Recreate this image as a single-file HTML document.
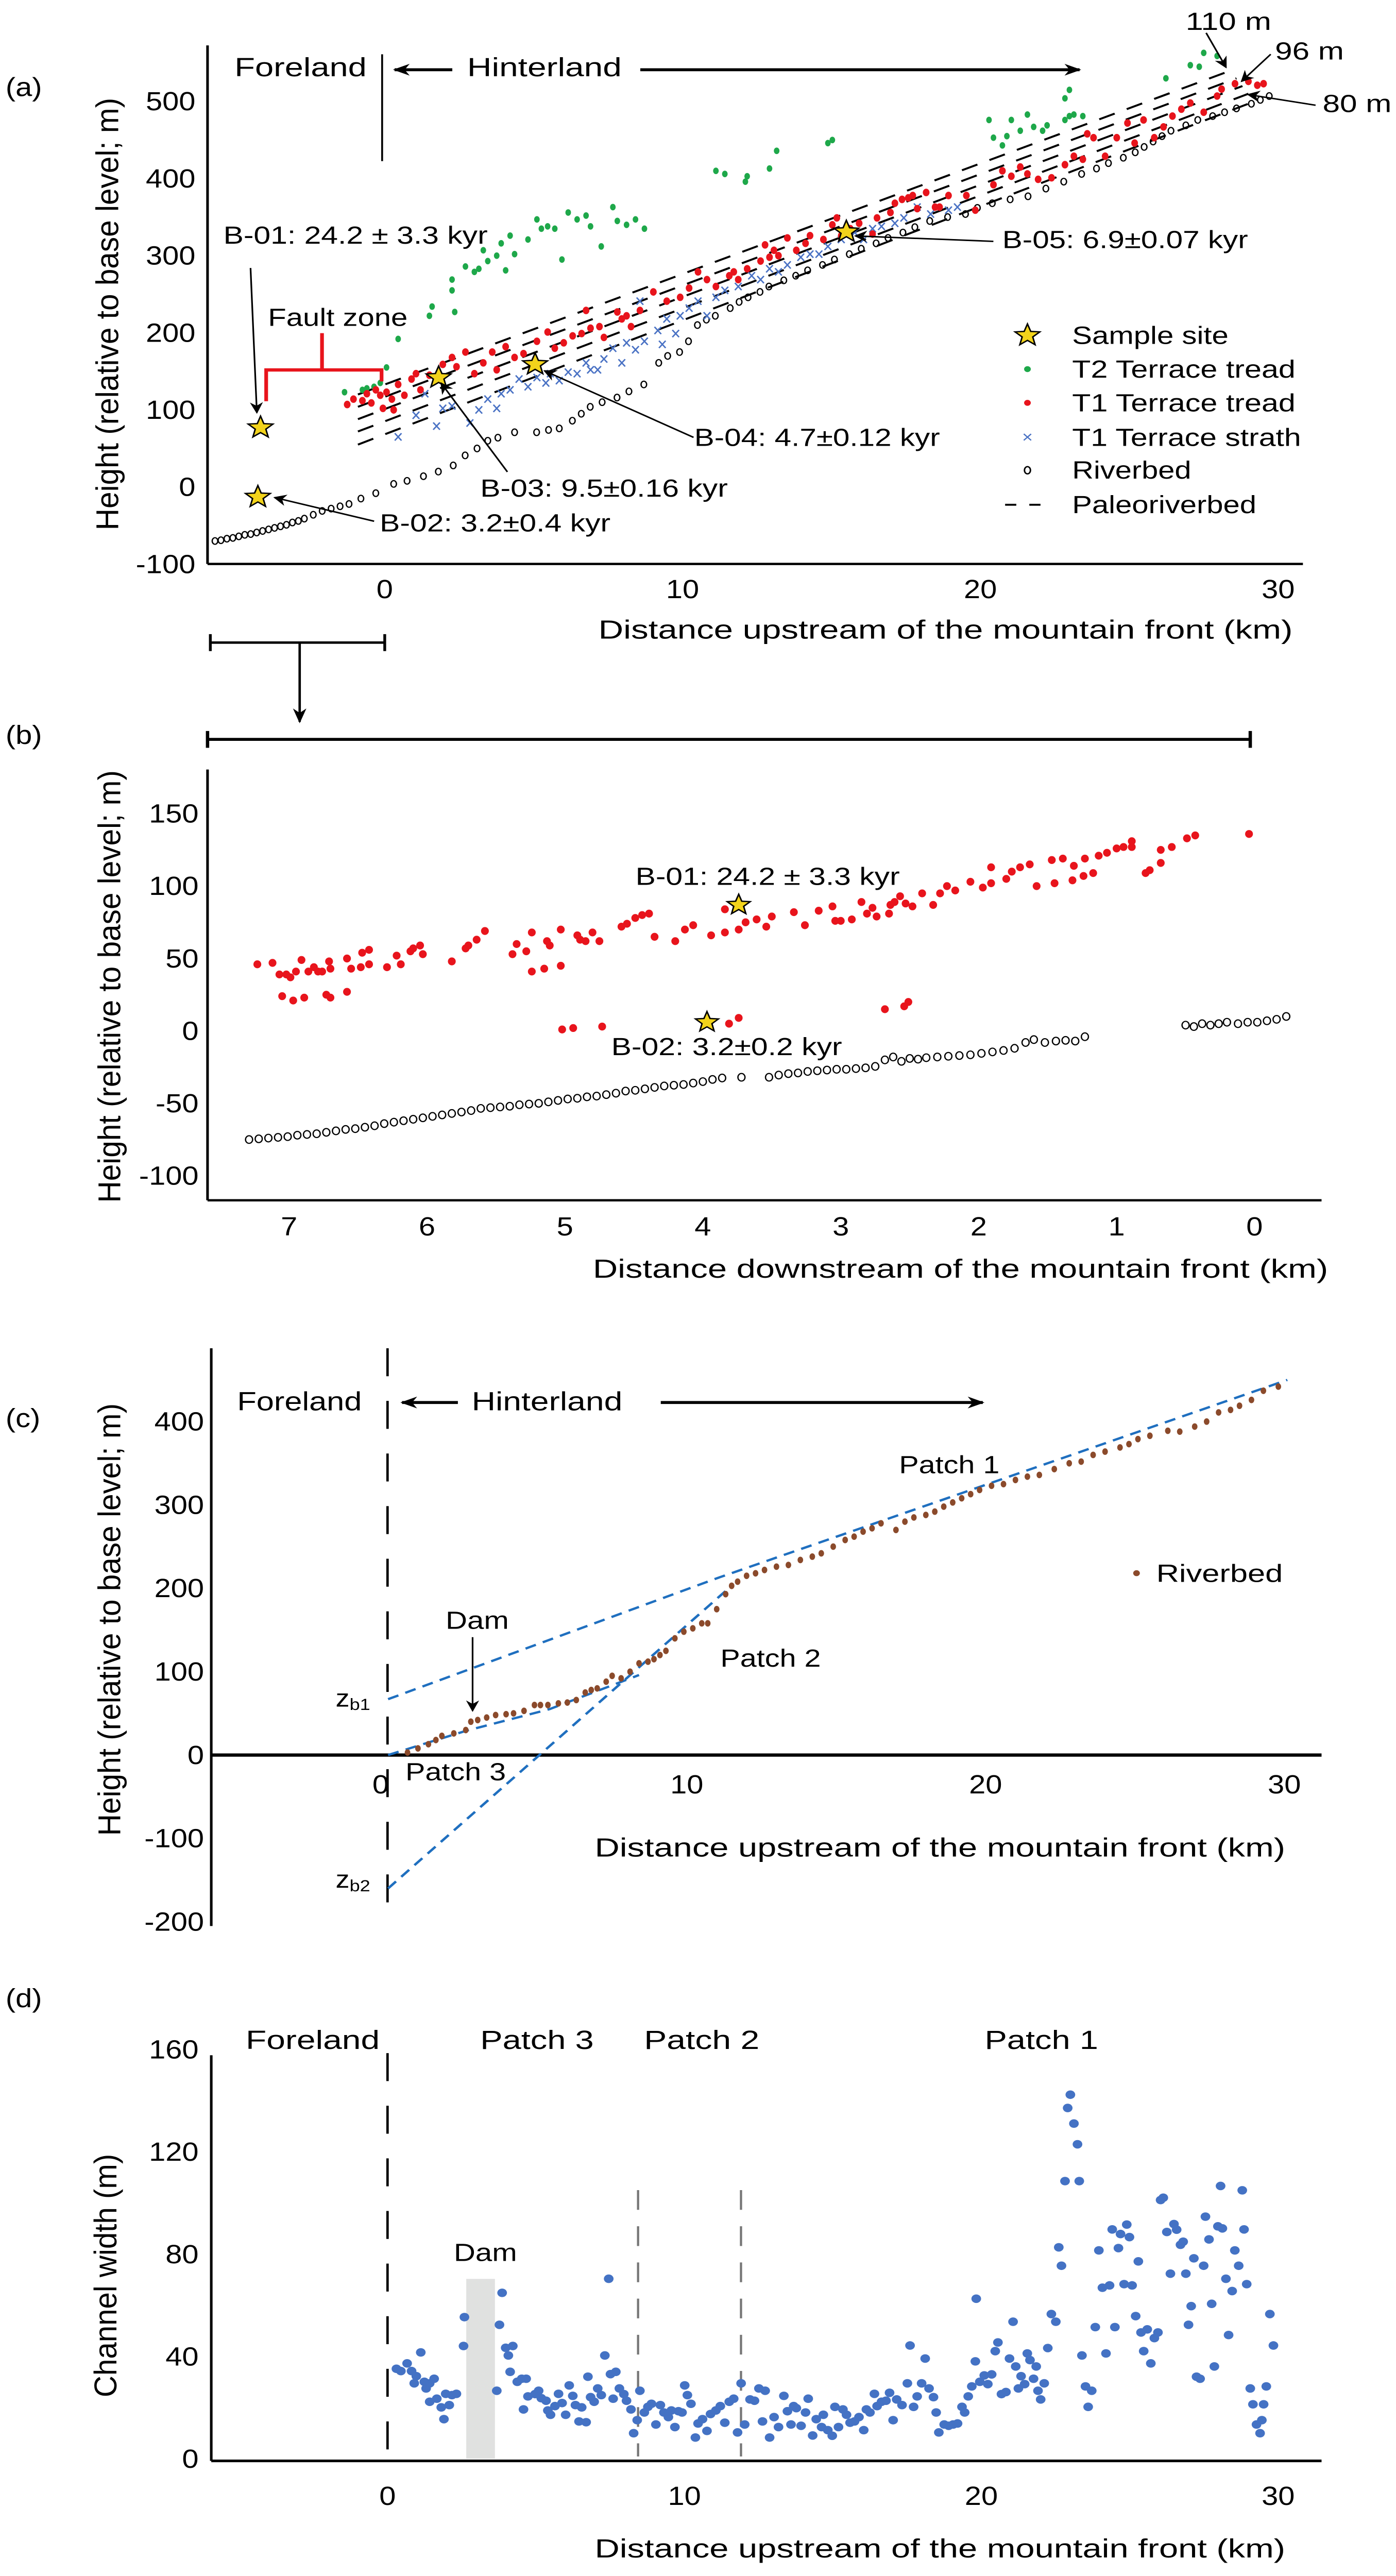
<!DOCTYPE html>
<html><head><meta charset="utf-8"><title>River profile figure</title>
<style>
html,body{margin:0;padding:0;background:#fff;width:100%;height:100%;overflow:hidden;}
#fig{position:fixed;left:0;top:0;width:100vw;height:100vh;display:block;overflow:hidden;}
text{font-family:"Liberation Sans",sans-serif;fill:#000;}
</style></head>
<body>
<svg id="fig" xmlns="http://www.w3.org/2000/svg" width="100%" height="100%" viewBox="0 0 750 1566.7" preserveAspectRatio="none">
<defs>
<marker id="ah" viewBox="0 0 10 10" refX="9" refY="5" markerWidth="7" markerHeight="7" orient="auto-start-reverse" markerUnits="userSpaceOnUse"><path d="M0,0 L10,5 L0,10 L3,5 z" fill="#000"/></marker>
<marker id="ahs" viewBox="0 0 10 10" refX="9" refY="5" markerWidth="9" markerHeight="9" orient="auto" markerUnits="userSpaceOnUse"><path d="M0,1 L10,5 L0,9 L3,5 z" fill="#000"/></marker>
</defs>
<rect x="0" y="0" width="750" height="1566.7" fill="#fff"/>

<g>
<text x="3" y="53" font-size="16" dominant-baseline="central">(a)</text>
<line x1="111.5" y1="27.6" x2="111.5" y2="343" stroke="#000" stroke-width="1.4"/>
<line x1="111.5" y1="343" x2="700" y2="343" stroke="#000" stroke-width="1.4"/>
<text transform="translate(58,191) rotate(-90)" font-size="17" text-anchor="middle" dominant-baseline="central" textLength="263" lengthAdjust="spacingAndGlyphs">Height (relative to base level; m)</text>
<text x="508" y="383" font-size="16" text-anchor="middle" dominant-baseline="central" textLength="373" lengthAdjust="spacingAndGlyphs">Distance upstream of the mountain front (km)</text>
<text x="126" y="41" font-size="16" dominant-baseline="central" textLength="71" lengthAdjust="spacingAndGlyphs">Foreland</text>
<line x1="205.3" y1="33" x2="205.3" y2="98" stroke="#000" stroke-width="1"/>
<line x1="243" y1="42.4" x2="212" y2="42.4" stroke="#000" stroke-width="1.8" marker-end="url(#ahs)"/>
<text x="251" y="41" font-size="16" dominant-baseline="central" textLength="83" lengthAdjust="spacingAndGlyphs">Hinterland</text>
<line x1="344" y1="42.4" x2="580" y2="42.4" stroke="#000" stroke-width="1.8" marker-end="url(#ahs)"/>
<g id="a-marks"></g>
<text x="120" y="143" font-size="15" dominant-baseline="central" textLength="142" lengthAdjust="spacingAndGlyphs">B-01: 24.2 ± 3.3 kyr</text>
<line x1="134.6" y1="163" x2="138" y2="251" stroke="#000" stroke-width="0.9" marker-end="url(#ah)"/>
<text x="144" y="193" font-size="15" dominant-baseline="central" textLength="75" lengthAdjust="spacingAndGlyphs">Fault zone</text>
<path d="M173,202.6 V225 M143,244 V225 H205 V232" fill="none" stroke="#e8141c" stroke-width="2"/>
<line x1="201" y1="317" x2="147.5" y2="302.6" stroke="#000" stroke-width="0.9" marker-end="url(#ah)"/>
<text x="204" y="318" font-size="15" dominant-baseline="central" textLength="124" lengthAdjust="spacingAndGlyphs">B-02: 3.2±0.4 kyr</text>
<line x1="272.6" y1="287" x2="237" y2="233" stroke="#000" stroke-width="0.9" marker-end="url(#ah)"/>
<text x="258" y="297" font-size="15" dominant-baseline="central" textLength="133" lengthAdjust="spacingAndGlyphs">B-03: 9.5±0.16 kyr</text>
<line x1="372.6" y1="266" x2="292.5" y2="225.5" stroke="#000" stroke-width="0.9" marker-end="url(#ah)"/>
<text x="373" y="266" font-size="15" dominant-baseline="central" textLength="132" lengthAdjust="spacingAndGlyphs">B-04: 4.7±0.12 kyr</text>
<line x1="533.7" y1="146.8" x2="459.5" y2="143.5" stroke="#000" stroke-width="0.9" marker-end="url(#ah)"/>
<text x="538.5" y="145.7" font-size="15" dominant-baseline="central" textLength="132" lengthAdjust="spacingAndGlyphs">B-05: 6.9±0.07 kyr</text>
<text x="637" y="13" font-size="15" dominant-baseline="central" textLength="46" lengthAdjust="spacingAndGlyphs">110 m</text>
<line x1="648" y1="20" x2="658.7" y2="41" stroke="#000" stroke-width="0.9" marker-end="url(#ah)"/>
<text x="685" y="31" font-size="15" dominant-baseline="central" textLength="37" lengthAdjust="spacingAndGlyphs">96 m</text>
<line x1="682.7" y1="33" x2="667" y2="49.5" stroke="#000" stroke-width="0.9" marker-end="url(#ah)"/>
<text x="710.6" y="63" font-size="15" dominant-baseline="central" textLength="37" lengthAdjust="spacingAndGlyphs">80 m</text>
<line x1="706.8" y1="64" x2="670.5" y2="57.5" stroke="#000" stroke-width="0.9" marker-end="url(#ah)"/>
<g id="a-legend">
<text x="576" y="204" font-size="15" dominant-baseline="central" textLength="84" lengthAdjust="spacingAndGlyphs">Sample site</text>
<circle cx="552" cy="224.5" r="1.8" fill="#1ea84a"/>
<text x="576" y="224.5" font-size="15" dominant-baseline="central" textLength="120" lengthAdjust="spacingAndGlyphs">T2 Terrace tread</text>
<circle cx="552" cy="245" r="1.8" fill="#e8141c"/>
<text x="576" y="245" font-size="15" dominant-baseline="central" textLength="120" lengthAdjust="spacingAndGlyphs">T1 Terrace tread</text>
<text x="552" y="266" font-size="10" text-anchor="middle" dominant-baseline="central" style="fill:#4a72c4">×</text>
<text x="576" y="266" font-size="15" dominant-baseline="central" textLength="123" lengthAdjust="spacingAndGlyphs">T1 Terrace strath</text>
<ellipse cx="552" cy="286" rx="1.6" ry="2.2" fill="none" stroke="#000" stroke-width="0.8"/>
<text x="576" y="286" font-size="15" dominant-baseline="central" textLength="64" lengthAdjust="spacingAndGlyphs">Riverbed</text>
<line x1="540" y1="307" x2="565" y2="307" stroke="#000" stroke-width="1.2" stroke-dasharray="6 7"/>
<text x="576" y="307" font-size="15" dominant-baseline="central" textLength="99" lengthAdjust="spacingAndGlyphs">Paleoriverbed</text>
</g>
</g>

<path d="M113,390.8 H206.7 M113,385.7 V396 M206.7,385.7 V396" stroke="#000" stroke-width="1.5" fill="none"/>
<line x1="161" y1="390.8" x2="161" y2="439" stroke="#000" stroke-width="1.3" marker-end="url(#ahs)"/>
<path d="M111.5,449.7 H671.7 M111.5,444.6 V454.8 M671.7,444.6 V454.8" stroke="#000" stroke-width="1.8" fill="none"/>

<g>
<text x="3" y="447" font-size="16" dominant-baseline="central">(b)</text>
<line x1="111.5" y1="468" x2="111.5" y2="730" stroke="#000" stroke-width="1.4"/>
<line x1="111.5" y1="730" x2="710" y2="730" stroke="#000" stroke-width="1.4"/>
<text transform="translate(59,600) rotate(-90)" font-size="17" text-anchor="middle" dominant-baseline="central" textLength="263" lengthAdjust="spacingAndGlyphs">Height (relative to base level; m)</text>
<text x="516" y="771.7" font-size="16" text-anchor="middle" dominant-baseline="central" textLength="395" lengthAdjust="spacingAndGlyphs">Distance downstream of the mountain front (km)</text>
<g id="b-marks"></g>
<text x="341.4" y="533" font-size="15" dominant-baseline="central" textLength="142" lengthAdjust="spacingAndGlyphs">B-01: 24.2 ± 3.3 kyr</text>
<text x="328.4" y="636.6" font-size="15" dominant-baseline="central" textLength="124" lengthAdjust="spacingAndGlyphs">B-02: 3.2±0.2 kyr</text>
</g>

<g>
<text x="3" y="862.6" font-size="16" dominant-baseline="central">(c)</text>
<line x1="113.5" y1="820" x2="113.5" y2="1171.4" stroke="#000" stroke-width="1.4"/>
<line x1="113.5" y1="1067.4" x2="710" y2="1067.4" stroke="#000" stroke-width="2"/>
<line x1="208.2" y1="820" x2="208.2" y2="1171" stroke="#000" stroke-width="1.3" stroke-dasharray="17 15"/>
<text transform="translate(59,985) rotate(-90)" font-size="17" text-anchor="middle" dominant-baseline="central" textLength="263" lengthAdjust="spacingAndGlyphs">Height (relative to base level; m)</text>
<text x="505" y="1123.7" font-size="16" text-anchor="middle" dominant-baseline="central" textLength="371" lengthAdjust="spacingAndGlyphs">Distance upstream of the mountain front (km)</text>
<text x="127.4" y="852.4" font-size="16" dominant-baseline="central" textLength="67" lengthAdjust="spacingAndGlyphs">Foreland</text>
<line x1="246" y1="853" x2="216" y2="853" stroke="#000" stroke-width="1.8" marker-end="url(#ahs)"/>
<text x="253.4" y="852.4" font-size="16" dominant-baseline="central" textLength="81" lengthAdjust="spacingAndGlyphs">Hinterland</text>
<line x1="355" y1="853" x2="528" y2="853" stroke="#000" stroke-width="1.8" marker-end="url(#ahs)"/>
<g id="c-marks"></g>
<text x="483" y="890.8" font-size="15" dominant-baseline="central" textLength="54" lengthAdjust="spacingAndGlyphs">Patch 1</text>
<text x="387" y="1008.5" font-size="15" dominant-baseline="central" textLength="54" lengthAdjust="spacingAndGlyphs">Patch 2</text>
<text x="217.8" y="1077.6" font-size="15" dominant-baseline="central" textLength="54" lengthAdjust="spacingAndGlyphs">Patch 3</text>
<text x="239.4" y="985.5" font-size="15" dominant-baseline="central" textLength="34" lengthAdjust="spacingAndGlyphs">Dam</text>
<line x1="253.9" y1="995.7" x2="253.9" y2="1040.5" stroke="#000" stroke-width="0.9" marker-end="url(#ah)"/>
<text x="180.3" y="1032.8" font-size="15" dominant-baseline="central">z<tspan font-size="10" dy="4">b1</tspan></text>
<text x="180.3" y="1143" font-size="15" dominant-baseline="central">z<tspan font-size="10" dy="4">b2</tspan></text>
<circle cx="610.6" cy="956.8" r="1.8" fill="#8b4a2b"/>
<text x="621.2" y="957" font-size="15" dominant-baseline="central" textLength="68" lengthAdjust="spacingAndGlyphs">Riverbed</text>
</g>

<g>
<text x="3" y="1215.4" font-size="16" dominant-baseline="central">(d)</text>
<rect x="250.5" y="1386" width="15.4" height="109.4" fill="#e0e1e0"/>
<line x1="113.5" y1="1250" x2="113.5" y2="1496.7" stroke="#000" stroke-width="1.4"/>
<line x1="113.5" y1="1496.7" x2="710" y2="1496.7" stroke="#000" stroke-width="1.6"/>
<line x1="208.2" y1="1248.7" x2="208.2" y2="1495" stroke="#000" stroke-width="1.3" stroke-dasharray="17 15"/>
<line x1="342.8" y1="1332" x2="342.8" y2="1494" stroke="#777" stroke-width="1.2" stroke-dasharray="12 10"/>
<line x1="398.1" y1="1332" x2="398.1" y2="1494" stroke="#777" stroke-width="1.2" stroke-dasharray="12 10"/>
<text transform="translate(57,1384) rotate(-90)" font-size="17" text-anchor="middle" dominant-baseline="central" textLength="148" lengthAdjust="spacingAndGlyphs">Channel width (m)</text>
<text x="505" y="1550" font-size="16" text-anchor="middle" dominant-baseline="central" textLength="371" lengthAdjust="spacingAndGlyphs">Distance upstream of the mountain front (km)</text>
<text x="132" y="1240.7" font-size="16" dominant-baseline="central" textLength="72" lengthAdjust="spacingAndGlyphs">Foreland</text>
<text x="258" y="1240.7" font-size="16" dominant-baseline="central" textLength="61" lengthAdjust="spacingAndGlyphs">Patch 3</text>
<text x="346" y="1240.7" font-size="16" dominant-baseline="central" textLength="62" lengthAdjust="spacingAndGlyphs">Patch 2</text>
<text x="529" y="1240.7" font-size="16" dominant-baseline="central" textLength="61" lengthAdjust="spacingAndGlyphs">Patch 1</text>
<text x="243.8" y="1370" font-size="15" dominant-baseline="central" textLength="34" lengthAdjust="spacingAndGlyphs">Dam</text>
<g id="d-marks"></g>
</g>
</svg>

<script>
// ---------- Panel A data ----------
const aYTicks = [-100, 0, 100, 200, 300, 400, 500];
const aXTicks = [0, 10, 20, 30];
const riverbedA = [[-5.7,-70],[-5.5,-69],[-5.3,-67],[-5.1,-66],[-4.9,-64],[-4.7,-62],[-4.5,-61],[-4.3,-59],[-4.1,-57],[-3.9,-55],[-3.7,-53],[-3.5,-51],[-3.3,-49],[-3.1,-46],[-2.9,-44],[-2.7,-41],[-2.4,-36],[-2.1,-31],[-1.8,-28],[-1.5,-25],[-1.2,-22],[-0.8,-15],[-0.3,-8],[0.3,4],[0.75,8],[1.3,14],[1.8,20],[2.3,28],[2.7,41],[3.1,50],[3.46,60],[3.8,64],[4.36,71],[5.1,71],[5.5,74],[5.86,76],[6.3,86],[6.6,95],[6.9,104],[7.3,110],[7.8,116],[8.2,124],[8.7,133],[9.2,161],[9.5,170],[9.9,175],[10.2,189],[10.5,210],[10.8,217],[11.1,222],[11.6,232],[11.9,240],[12.2,246],[12.6,253],[12.9,260],[13.4,268],[13.8,274],[14.2,281],[14.7,288],[15.1,295],[15.6,302],[16.0,309],[16.5,316],[16.9,323],[17.4,330],[17.8,337],[18.3,345],[18.9,350],[19.5,354],[19.9,362],[20.4,368],[21.0,373],[21.6,377],[22.2,387],[22.8,396],[23.4,406],[23.9,413],[24.3,420],[24.8,427],[25.2,434],[25.5,441],[25.8,448],[26.1,455],[26.4,462],[26.9,469],[27.3,476],[27.8,481],[28.2,486],[28.6,491],[29.1,497],[29.4,502],[29.7,507]];
const t1TreadA = [[-1.26,107],[-1.05,114],[-0.75,112],[-0.6,121],[-0.45,109],[-0.3,126],[-0.15,119],[-0.06,102],[0.06,123],[0.24,114],[0.3,100],[0.45,133],[0.66,119],[0.9,140],[1.05,147],[1.2,126],[1.5,145],[1.95,159],[2.26,168],[2.41,156],[2.71,175],[3.01,147],[3.31,161],[3.61,175],[3.76,152],[4.06,182],[4.36,168],[4.66,173],[5.11,189],[5.47,201],[5.71,180],[6.01,187],[6.31,196],[6.61,199],[6.76,229],[6.91,206],[7.21,208],[7.36,194],[7.81,227],[7.96,218],[8.12,222],[8.27,208],[8.57,229],[9.02,253],[9.47,241],[9.92,246],[10.22,258],[10.52,279],[10.82,269],[11.12,260],[11.57,274],[11.72,279],[11.87,269],[12.17,283],[12.62,293],[12.77,314],[12.92,298],[13.07,307],[13.22,300],[13.52,323],[13.82,307],[14.13,316],[14.28,326],[14.73,321],[15.03,340],[15.18,349],[15.33,326],[15.63,335],[15.93,342],[16.38,328],[16.53,349],[16.98,356],[17.13,368],[17.37,373],[17.58,375],[17.73,378],[17.88,361],[18.18,382],[18.48,363],[18.63,363],[18.93,378],[19.53,378],[19.83,359],[20.44,392],[20.74,410],[21.04,403],[21.34,415],[21.58,406],[21.94,399],[22.39,401],[22.84,418],[23.14,429],[23.44,425],[23.59,458],[23.8,453],[24.19,429],[24.58,453],[24.94,472],[25.18,446],[25.48,476],[25.84,453],[26.15,467],[26.45,481],[26.75,490],[27.05,498],[27.5,486],[27.95,507],[28.1,516],[28.55,523],[29.0,526],[29.3,521],[29.51,523]];
const t2TreadA = [[-1.35,123],[-0.75,126],[-0.6,128],[-0.36,130],[-0.15,135],[0.06,155],[0.45,192],[1.5,222],[1.59,234],[2.35,227],[2.26,255],[2.26,269],[2.71,286],[3.01,279],[3.16,283],[3.46,293],[3.31,307],[3.76,300],[4.06,281],[3.91,316],[4.21,326],[4.36,302],[4.81,321],[5.11,347],[5.26,335],[5.47,338],[5.71,335],[5.95,295],[6.16,356],[6.46,347],[6.76,352],[6.91,338],[7.27,312],[7.66,363],[7.81,345],[8.12,340],[8.42,347],[8.72,335],[11.12,410],[11.42,406],[12.11,396],[12.17,403],[12.92,413],[13.16,436],[14.88,446],[15.03,450],[20.29,476],[20.44,453],[20.74,443],[20.89,455],[21.04,476],[21.34,462],[21.58,483],[21.79,467],[22.09,462],[22.24,469],[22.84,476],[22.99,481],[23.14,483],[23.44,481],[22.84,504],[22.99,515],[26.23,530],[27.05,547],[27.35,545],[27.5,563],[27.95,559]];
const strathA = [[0.45,65],[1.05,93],[1.35,121],[1.74,79],[1.95,102],[2.26,105],[2.86,83],[3.16,100],[3.46,114],[3.76,102],[3.91,121],[4.21,126],[4.51,140],[4.81,130],[5.11,142],[5.41,135],[5.56,147],[5.86,138],[6.16,149],[6.46,147],[6.76,161],[6.91,152],[7.15,152],[7.36,166],[7.66,180],[7.96,161],[8.12,187],[8.42,178],[8.57,241],[8.72,189],[9.17,203],[9.32,185],[9.47,218],[9.77,199],[9.92,222],[10.22,232],[10.52,241],[10.82,222],[11.12,246],[11.42,255],[11.87,260],[12.32,274],[12.62,269],[12.92,283],[13.22,279],[13.52,288],[13.97,298],[14.28,302],[14.58,302],[14.88,312],[15.33,321],[15.78,330],[16.08,321],[16.38,335],[16.68,338],[17.13,342],[17.43,349],[17.88,363],[18.33,354],[18.93,359],[19.23,363]];
const paleoStartKm = [-0.9, -0.9, -0.9, -0.9, -0.9];
const paleoStartM = [55, 72, 88, 104, 120];
const paleoEndKm = [29.2, 29.0, 28.8, 28.6, 28.4];
const paleoEndM = [500, 510, 520, 530, 540];
const samplesAKm = [-4.17, -4.26, 1.81, 5.05, 15.5];
const samplesAM = [77, -13, 142, 159, 331];

// ---------- Panel B data ----------
const bYTicks = [-100, -50, 0, 50, 100, 150];
const bXTicks = [7, 6, 5, 4, 3, 2, 1, 0];
const t1TreadB = [[7.23,46],[7.12,47],[7.07,39],[7.02,39],[6.99,37],[6.95,41],[6.91,49],[6.86,41],[6.82,44],[6.79,41],[6.76,41],[6.71,48],[6.70,43],[6.58,50],[6.55,43],[6.48,44],[6.47,54],[6.42,56],[6.42,46],[6.29,44],[6.22,52],[6.19,46],[6.12,55],[6.10,57],[6.05,59],[6.03,53],[5.82,48],[5.72,57],[5.70,59],[5.64,63],[5.58,69],[5.38,53],[5.35,60],[5.28,55],[5.24,68],[5.13,62],[5.11,59],[5.03,70],[4.91,66],[4.89,63],[4.85,62],[4.80,68],[4.75,62],[4.59,72],[4.55,74],[4.49,78],[4.44,80],[4.39,81],[4.35,65],[4.20,62],[4.13,70],[4.07,73],[3.94,66],[3.84,68],[3.84,84],[3.74,70],[3.69,75],[3.61,77],[3.54,72],[3.50,79],[3.34,82],[3.26,73],[3.16,83],[3.06,86],[3.04,76],[3.00,76],[2.92,77],[2.85,89],[2.81,81],[2.77,85],[2.74,79],[2.65,81],[2.64,87],[2.61,89],[2.57,93],[2.53,88],[2.48,86],[2.41,95],[2.33,87],[2.28,95],[2.23,100],[2.17,97],[2.06,103],[1.97,99],[1.91,113],[1.91,102],[1.80,105],[1.76,110],[1.70,113],[1.63,115],[1.58,100],[1.47,118],[1.45,102],[1.39,119],[1.32,104],[1.31,114],[1.24,107],[1.23,119],[1.17,109],[1.13,121],[1.07,123],[1.00,126],[0.95,127],[0.89,131],[0.89,127],[0.79,109],[0.76,111],[0.68,125],[0.68,116],[0.60,127],[0.49,133],[0.43,135],[0.04,136],[7.05,24],[6.97,21],[6.89,23],[6.73,25],[6.70,23],[6.58,27],[5.24,41],[5.15,43],[5.03,45],[5.02,1],[4.94,2],[4.73,3],[3.81,5],[3.74,9],[2.68,15],[2.54,17],[2.51,20]];
const riverbedB = [[7.29,-75],[7.22,-74.5],[7.15,-74],[7.08,-73.5],[7.01,-73],[6.94,-72],[6.87,-71.5],[6.80,-71],[6.73,-70],[6.66,-69],[6.59,-68],[6.52,-67.5],[6.45,-66.5],[6.38,-65.5],[6.31,-64],[6.24,-63],[6.17,-62],[6.10,-61],[6.03,-60],[5.96,-59],[5.89,-58],[5.82,-57],[5.75,-56],[5.68,-55],[5.61,-53.5],[5.54,-53],[5.47,-52.5],[5.40,-52],[5.33,-51],[5.26,-50.5],[5.19,-50],[5.12,-49],[5.05,-48],[4.98,-47],[4.91,-46.5],[4.84,-45.5],[4.77,-45],[4.70,-44],[4.63,-43],[4.56,-41.5],[4.49,-41],[4.42,-40],[4.35,-39],[4.28,-38],[4.21,-37.5],[4.14,-37],[4.07,-36],[4.00,-35],[3.93,-33.5],[3.86,-32.5],[3.72,-32],[3.52,-32],[3.45,-30.5],[3.38,-29.5],[3.31,-29],[3.24,-28],[3.17,-27.5],[3.10,-27],[3.03,-26.5],[2.96,-26.5],[2.89,-26],[2.82,-25.5],[2.75,-24.5],[2.68,-20],[2.62,-18],[2.56,-21],[2.50,-19],[2.44,-19.5],[2.38,-18.5],[2.30,-18],[2.22,-17.5],[2.14,-17],[2.06,-16.5],[1.98,-15.5],[1.90,-14.5],[1.82,-13.5],[1.74,-12],[1.66,-8],[1.60,-6],[1.52,-8],[1.44,-7],[1.37,-6.5],[1.30,-7],[1.23,-4],[0.50,4],[0.44,3],[0.38,5],[0.32,4],[0.26,5],[0.20,6],[0.12,5],[0.05,6],[-0.02,6],[-0.09,7],[-0.16,8],[-0.23,10]];
const samplesBD = [3.74, 3.97];
const samplesBM = [87, 6];

// ---------- Panel C data ----------
const cYTicks = [-200, -100, 0, 100, 200, 300, 400];
const cXTicks = [0, 10, 20, 30];
const riverbedCKm = [0.65,1.0,1.35,1.6,1.8,2.2,2.6,2.77,3.0,3.3,3.6,3.95,4.2,4.55,4.9,5.1,5.35,5.7,6.0,6.3,6.6,6.8,7.0,7.3,7.5,7.8,8.1,8.4,8.7,8.9,9.1,9.3,9.6,9.9,10.2,10.5,10.7,11.0,11.3,11.5,11.7,12.0,12.3,12.6,13.0,13.4,13.8,14.2,14.5,14.9,15.3,15.6,15.9,16.2,16.5,17.0,17.3,17.6,18.0,18.3,18.6,18.9,19.2,19.5,19.8,20.2,20.6,21.0,21.4,21.8,22.3,22.8,23.2,23.6,24.0,24.5,24.8,25.1,25.5,26.1,26.5,27.0,27.4,27.8,28.2,28.5,28.9,29.3,29.8];
const riverbedCM = [3,8,13,18,23,26,30,40,42,45,48,49,50,53,60,60,60,62,63,66,75,78,80,88,95,92,100,110,112,115,120,125,140,148,152,158,158,175,193,203,208,215,218,222,226,228,234,238,242,250,258,262,268,272,278,270,280,285,288,292,298,303,308,313,318,323,325,330,334,336,343,350,352,360,364,369,373,379,383,389,388,394,400,411,414,419,426,437,442];
const fitUpperKm = [0, 11.0, 30.1];
const fitUpperM = [67, 212, 450];
const fitLowerKm = [0, 11.4];
const fitLowerM = [-160, 200];
const fitPatch3Km = [0, 2.6, 5.4, 8.4];
const fitPatch3M = [0, 29, 55, 96];

// ---------- Panel D data ----------
const dYTicks = [0, 40, 80, 120, 160];
const dXTicks = [0, 10, 20, 30];
const widthD = [[0.30,35.2],[0.45,34.3],[0.66,37.3],[0.81,34.3],[0.97,32.3],[0.90,29.5],[1.12,41.6],[1.24,30.1],[1.30,27.5],[1.42,29.5],[1.57,31.3],[1.42,22.3],[1.66,23.5],[1.81,20.1],[1.90,15.5],[1.96,25.4],[2.08,21],[2.17,24.9],[2.32,25.4],[2.56,44.1],[2.59,55.4],[3.68,26.6],[3.77,52.4],[3.86,64.9],[3.98,43.4],[4.07,40.4],[4.13,34],[4.22,44.1],[4.37,30.1],[4.52,31.3],[4.58,19.3],[4.67,31.3],[4.73,24.4],[4.97,25.3],[5.09,26.6],[5.18,23.7],[5.34,22.7],[5.40,18.9],[5.49,17.2],[5.64,20.6],[5.76,25.4],[5.88,21.8],[6.00,17.2],[6.12,28.7],[6.24,24.6],[6.33,21],[6.45,14.6],[6.54,20.1],[6.69,14.3],[6.75,32.1],[6.84,24.1],[6.96,22.3],[7.08,27.5],[7.20,24.9],[7.32,40.4],[7.45,70.4],[7.51,33.1],[7.60,23.5],[7.69,34],[7.81,27.5],[7.96,25.3],[8.05,22.7],[8.20,19.3],[8.29,10],[8.41,15.1],[8.50,26.6],[8.65,18.1],[8.77,20.3],[8.89,21.5],[9.04,13.4],[9.19,21],[9.31,18.1],[9.46,16.3],[9.56,18.9],[9.68,12.4],[9.80,18.6],[9.92,18.1],[10.01,28.7],[10.10,24.9],[10.22,21.5],[10.37,8.3],[10.46,13.8],[10.61,15.5],[10.76,10.9],[10.88,17.5],[11.06,18.9],[11.21,20.6],[11.36,14.1],[11.51,22.3],[11.66,23.5],[11.79,10.3],[11.91,29.5],[12.03,13.4],[12.21,23.2],[12.36,22.7],[12.51,27.5],[12.63,14.6],[12.72,26.6],[12.87,8.3],[13.02,16.3],[13.17,12.4],[13.35,24.6],[13.47,18.6],[13.59,13.4],[13.68,20.6],[13.77,19.8],[13.93,12.9],[14.08,18.1],[14.17,23.5],[14.32,9.1],[14.44,15.5],[14.62,12.4],[14.68,17.2],[14.83,11.2],[14.98,9],[15.07,20.3],[15.19,12.4],[15.34,19.3],[15.46,17.2],[15.58,14.1],[15.73,14.6],[15.88,16.3],[16.04,11.2],[16.13,19.3],[16.25,18.1],[16.40,25.4],[16.49,20.6],[16.64,22.3],[16.79,22.7],[16.91,25.8],[17.03,15.1],[17.15,23.2],[17.33,21],[17.51,29.5],[17.60,44.3],[17.72,20.3],[17.84,24.4],[17.99,29.5],[18.11,39.2],[18.24,27.5],[18.39,24.1],[18.48,18.1],[18.57,10.3],[18.75,13.4],[18.90,12.9],[19.05,13.4],[19.20,13.8],[19.35,20.3],[19.44,18.1],[19.56,24.4],[19.68,28.3],[19.80,38.1],[19.83,62.6],[19.95,30.1],[20.10,32.6],[20.22,29.2],[20.35,33],[20.47,42.1],[20.56,45.5],[20.68,25.3],[20.83,26.1],[20.95,39.2],[21.07,53.6],[21.16,36.1],[21.25,27.5],[21.34,32.3],[21.46,29.2],[21.55,41.2],[21.64,38.6],[21.76,31.3],[21.85,36.1],[21.91,26.6],[22.00,23.2],[22.12,29.5],[22.24,43.3],[22.36,56.6],[22.51,53.6],[22.61,82.7],[22.70,75.5],[22.82,108.6],[22.91,137.2],[23.00,142.4],[23.12,131.1],[23.24,123],[23.30,108.6],[23.39,40.4],[23.51,28.3],[23.60,20.3],[23.72,26.6],[23.84,51.5],[23.96,81.5],[24.08,66.9],[24.20,41.2],[24.32,67.8],[24.41,89.7],[24.50,51.5],[24.62,82.4],[24.69,87.9],[24.81,68.3],[24.90,91.6],[24.99,86.7],[25.08,67.8],[25.20,55.8],[25.29,77.2],[25.38,49.4],[25.47,42.1],[25.59,50.6],[25.71,37.3],[25.83,47.2],[25.95,49.4],[26.04,101.2],[26.13,102.1],[26.25,88.7],[26.37,72.4],[26.49,91.8],[26.58,89.6],[26.71,83.7],[26.80,84.9],[26.89,72.4],[26.98,52.4],[27.07,59.7],[27.16,78.4],[27.25,32.1],[27.37,31.3],[27.49,75.5],[27.55,94.7],[27.67,85.8],[27.76,60.6],[27.85,36.1],[27.97,90.9],[28.06,106.7],[28.12,90.1],[28.24,70.4],[28.33,48.4],[28.45,65.6],[28.54,81.5],[28.67,75.5],[28.79,105],[28.85,89.7],[28.94,68.3],[29.06,27.5],[29.15,21.3],[29.27,13.4],[29.39,10],[29.45,15.1],[29.51,21.3],[29.60,28.3],[29.72,56.6],[29.84,44.3]];

// ---------- scales ----------
const xA = k => 206.7 + 16 * k, yA = m => 296.2 - 0.469 * m;
const xB = d => 674 - 74.1 * d, yB = m => 627 - 0.8808 * m;
const xC = k => 208.5 + 16.05 * k, yC = m => 1067.4 - 0.507 * m;
const xD = k => 208.2 + 15.95 * k, yD = w => 1495.4 - 1.555 * w;

const NS = 'http://www.w3.org/2000/svg';
function mk(tag, parent, attrs) {
  const e = document.createElementNS(NS, tag);
  for (const k in attrs) e.setAttribute(k, attrs[k]);
  parent.appendChild(e);
  return e;
}
function starPath(cx, cy, R, r) {
  let d = '';
  for (let i = 0; i < 10; i++) {
    const rad = i % 2 ? r : R, a = -Math.PI / 2 + i * Math.PI / 5;
    d += (i ? 'L' : 'M') + (cx + rad * Math.cos(a)).toFixed(2) + ',' + (cy + rad * Math.sin(a)).toFixed(2);
  }
  return d + 'Z';
}
function tickLabel(parent, x, y, txt, anchor) {
  const t = mk('text', parent, {x: x, y: y, 'font-size': 16, 'text-anchor': anchor, 'dominant-baseline': 'central'});
  t.textContent = txt;
  return t;
}

const ga = document.getElementById('a-marks');
aYTicks.forEach(v => {
  const t = tickLabel(ga, 105, yA(v), String(v), 'end');
  
  
});
aXTicks.forEach(v => {
  const t = tickLabel(ga, xA(v), 358.3, String(v), 'middle');
  
  
});
paleoStartKm.forEach((k, i) => {
  const l = mk('line', ga, {x1: xA(k), y1: yA(paleoStartM[i]), x2: xA(paleoEndKm[i]), y2: yA(paleoEndM[i]), stroke: '#000', 'stroke-width': 1.2, 'stroke-dasharray': '9 7'});
  
  
});
riverbedA.forEach(p => {
  const c = mk('ellipse', ga, {cx: xA(p[0]), cy: yA(p[1]), rx: 1.5, ry: 2, fill: 'none', stroke: '#000', 'stroke-width': 0.7});
  
  
});
strathA.forEach(p => {
  const x = xA(p[0]), y = yA(p[1]);
  const s = mk('path', ga, {d: `M${x-1.8},${y-2.2}L${x+1.8},${y+2.2}M${x+1.8},${y-2.2}L${x-1.8},${y+2.2}`, stroke: '#4a72c4', 'stroke-width': 0.8});
  
  
});
t2TreadA.forEach(p => {
  const c = mk('ellipse', ga, {cx: xA(p[0]), cy: yA(p[1]), rx: 1.5, ry: 2, fill: '#1ea84a'});
  
  
});
t1TreadA.forEach(p => {
  const c = mk('ellipse', ga, {cx: xA(p[0]), cy: yA(p[1]), rx: 1.8, ry: 2.3, fill: '#e8141c'});
  
  
});
samplesAKm.forEach((k, i) => {
  const s = mk('path', ga, {d: starPath(xA(k), yA(samplesAM[i]), 7, 3), fill: '#f2d31b', stroke: '#000', 'stroke-width': 0.8});
  
  
});
const legStar = mk('path', document.getElementById('a-legend'), {d: starPath(552, 204, 7, 3), fill: '#f2d31b', stroke: '#000', 'stroke-width': 0.8});



const gb = document.getElementById('b-marks');
bYTicks.forEach(v => {
  const t = tickLabel(gb, 106.7, yB(v), String(v), 'end');
  
  
});
bXTicks.forEach(v => {
  const t = tickLabel(gb, xB(v), 746, String(v), 'middle');
  
  
});
riverbedB.forEach(p => {
  const c = mk('ellipse', gb, {cx: xB(p[0]), cy: yB(p[1]), rx: 1.9, ry: 2.3, fill: 'none', stroke: '#000', 'stroke-width': 0.7});
  
  
});
t1TreadB.forEach(p => {
  const c = mk('ellipse', gb, {cx: xB(p[0]), cy: yB(p[1]), rx: 2.1, ry: 2.4, fill: '#e8141c'});
  
  
});
samplesBD.forEach((d, i) => {
  const s = mk('path', gb, {d: starPath(xB(d), yB(samplesBM[i]), 6.5, 2.8), fill: '#f2d31b', stroke: '#000', 'stroke-width': 0.8});
  
  
});

const gc = document.getElementById('c-marks');
cYTicks.forEach(v => {
  const t = tickLabel(gc, 109.6, yC(v), String(v), 'end');
  
  
});
cXTicks.forEach(v => {
  const t = tickLabel(gc, xC(v) - (v === 0 ? 4 : 0), 1085.3, String(v), 'middle');
  
  
});
function fitLine(ks, ms, name) {
  const pts = ks.map((k, i) => xC(k).toFixed(2) + ',' + yC(ms[i]).toFixed(2)).join(' ');
  const l = mk('polyline', gc, {points: pts, fill: 'none', stroke: '#1f6fbf', 'stroke-width': 1.4, 'stroke-dasharray': '6 4'});
  
  
}
fitLine(fitUpperKm, fitUpperM, 'fit-line-zb1-patch1');
fitLine(fitLowerKm, fitLowerM, 'fit-line-zb2-patch2');
fitLine(fitPatch3Km, fitPatch3M, 'fit-line-patch3');
riverbedCKm.forEach((k, i) => {
  const c = mk('ellipse', gc, {cx: xC(k), cy: yC(riverbedCM[i]), rx: 1.5, ry: 2, fill: '#8b4a2b'});
  
  
});

const gd = document.getElementById('d-marks');
dYTicks.forEach(v => {
  const t = tickLabel(gd, 106.7, yD(v), String(v), 'end');
  
  
});
dXTicks.forEach(v => {
  const t = tickLabel(gd, xD(v), 1518, String(v), 'middle');
  
  
});
widthD.forEach(p => {
  const c = mk('circle', gd, {cx: xD(p[0]), cy: yD(p[1]), r: 2.6, fill: '#4472c4'});
  
  
});
</script>
</body></html>
